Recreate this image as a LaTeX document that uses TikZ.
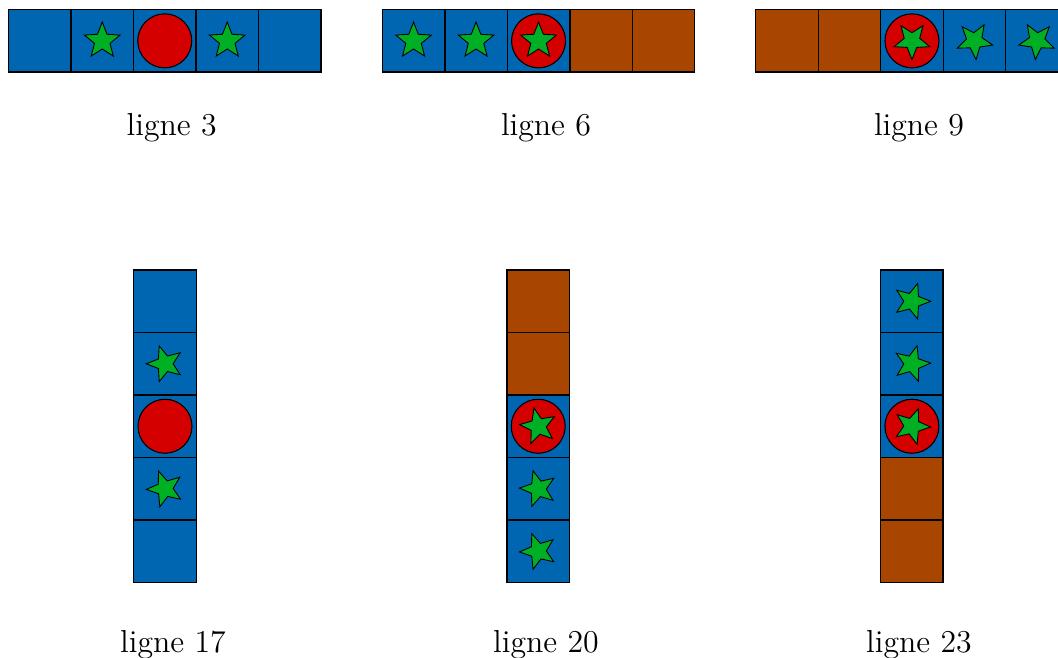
\documentclass[tikz,border=0pt]{standalone}
\usetikzlibrary{shapes.geometric}
\definecolor{cblue}{RGB}{0,102,178}
\definecolor{cbrown}{RGB}{168,69,0}
\definecolor{cred}{RGB}{212,0,0}
\definecolor{cgreen}{RGB}{0,176,36}
\begin{document}
\begin{tikzpicture}[x=0.016026cm,y=-0.016026cm,
  cell/.style={rectangle, minimum size=1cm, inner sep=0pt, outer sep=0pt},
  bl/.style={cell, fill=cblue},
  br/.style={cell, fill=cbrown},
  border/.style={draw=black, line width=0.6pt},
  disc/.style={circle, draw=black, fill=cred, line width=0.5pt, minimum size=0.865cm, inner sep=0pt},
  st/.style={star, star points=5, star point ratio=2.3, draw=black, fill=cgreen, line width=0.4pt, minimum size=0.6cm, inner sep=0pt},
  lab/.style={anchor=base, font=\fontsize{14.5}{17.4}\selectfont, inner sep=0pt}]
\clip (0,0) rectangle (1058,657);
% ---------- cells ----------
\foreach \i/\s in {1/bl,2/bl,3/bl,4/bl,5/bl}
  \node[\s] (a\i) at ({39.75+62.5*(\i-1)},40.85) {};
\foreach \i/\s in {1/bl,2/bl,3/bl,4/br,5/br}
  \node[\s] (b\i) at ({413.55+62.5*(\i-1)},40.85) {};
\foreach \i/\s in {1/br,2/br,3/bl,4/bl,5/bl}
  \node[\s] (c\i) at ({786.95+62.5*(\i-1)},40.85) {};
\foreach \i/\s in {1/bl,2/bl,3/bl,4/bl,5/bl}
  \node[\s] (d\i) at (165,{301.25+62.5*(\i-1)}) {};
\foreach \i/\s in {1/br,2/br,3/bl,4/bl,5/bl}
  \node[\s] (e\i) at (538.2,{301.25+62.5*(\i-1)}) {};
\foreach \i/\s in {1/bl,2/bl,3/bl,4/br,5/br}
  \node[\s] (f\i) at (911.9,{301.25+62.5*(\i-1)}) {};
% ---------- cell borders ----------
\foreach \l in {a,b,c,d,e,f}
  \foreach \i in {1,...,5}
    \draw[border] (\l\i.north west) rectangle (\l\i.south east);
% ---------- ligne 3 ----------
\node[st] (a2s) at (a2) {};
\node[disc] (a3c) at (a3) {};
\node[st] (a4s) at (a4) {};
\node[lab] (la) at (171.7,135) {ligne 3};
% ---------- ligne 6 ----------
\node[st] (b1s) at (b1) {};
\node[st] (b2s) at (b2) {};
\node[disc] (b3c) at (b3) {};
\node[st] (b3s) at (b3) {};
\node[lab] (lb) at (546,135) {ligne 6};
% ---------- ligne 9 ----------
\node[disc] (c3c) at (c3) {};
\node[st, rotate=180] (c3s) at (c3) {};
\node[st, rotate=185] (c4s) at (c4) {};
\node[st, rotate=175] (c5s) at (c5) {};
\node[lab] (lc) at (919,135) {ligne 9};
% ---------- ligne 17 ----------
\node[st, rotate=90] (d2s) at (d2) {};
\node[disc] (d3c) at (d3) {};
\node[st, rotate=92] (d4s) at (d4) {};
\node[lab] (ld) at (173,652) {ligne 17};
% ---------- ligne 20 ----------
\node[disc] (e3c) at (e3) {};
\node[st, rotate=85] (e3s) at (e3) {};
\node[st, rotate=88] (e4s) at (e4) {};
\node[st, rotate=92] (e5s) at (e5) {};
\node[lab] (le) at (546,652) {ligne 20};
% ---------- ligne 23 ----------
\node[st, rotate=-90] (f1s) at (f1) {};
\node[st, rotate=-88] (f2s) at (f2) {};
\node[disc] (f3c) at (f3) {};
\node[st, rotate=-92] (f3s) at (f3) {};
\node[lab] (lf) at (919,652) {ligne 23};
\end{tikzpicture}
\end{document}
